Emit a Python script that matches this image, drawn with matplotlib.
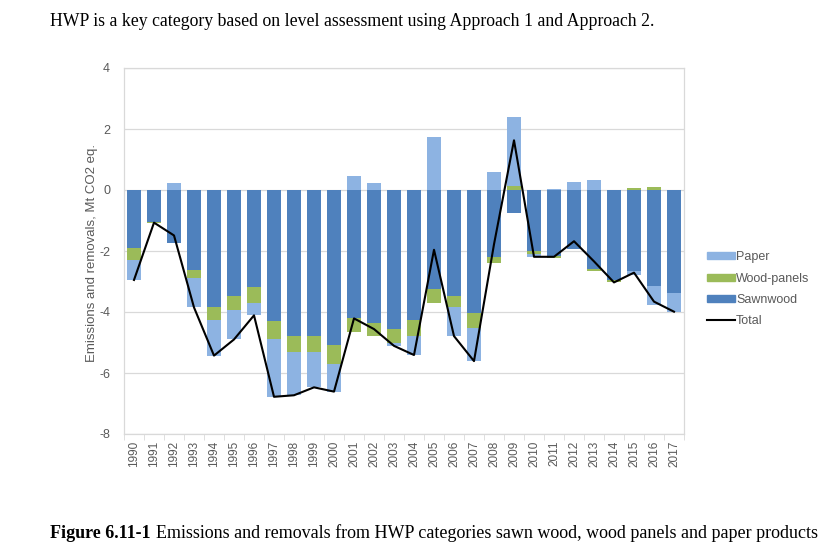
import numpy as np
import matplotlib
matplotlib.use("Agg")
import matplotlib.pyplot as plt
from matplotlib.patches import Patch
from matplotlib.lines import Line2D

# Data (Mt CO2 eq.)
years = list(range(1990, 2018))
sawnwood = [-1.91, -1.04, -1.73, -2.62, -3.82, -3.48, -3.19, -4.28, -4.79, -4.79,
            -5.08, -4.21, -4.37, -4.56, -4.26, -3.26, -3.48, -4.04, -2.21, -0.77,
            -1.99, -2.15, -1.93, -2.60, -2.95, -2.64, -3.15, -3.39]
panels = [-0.39, -0.03, 0.0, -0.25, -0.44, -0.45, -0.53, -0.62, -0.51, -0.51,
          -0.62, -0.46, -0.42, -0.44, -0.53, -0.43, -0.34, -0.50, -0.17, 0.14,
          -0.10, -0.07, 0.0, -0.07, -0.08, 0.08, 0.11, 0.0]
paper = [-0.65, 0.0, 0.24, -0.98, -1.17, -0.97, -0.39, -1.88, -1.43, -1.17,
         -0.91, 0.46, 0.23, -0.11, -0.62, 1.73, -0.97, -1.07, 0.60, 2.26,
         -0.10, 0.03, 0.25, 0.33, 0.0, -0.15, -0.62, -0.60]

col_saw = "#4f81bd"
col_pan = "#9bbb59"
col_pap = "#8db3e2"
grey_txt = "#595959"
grid_col = "#d9d9d9"

plt.rcParams["axes.unicode_minus"] = False

sawnwood = np.array(sawnwood)
panels = np.array(panels)
paper = np.array(paper)
total = sawnwood + panels + paper
x = np.arange(len(years))

fig = plt.figure(figsize=(8.24, 5.49), dpi=100)
ax = fig.add_axes([124 / 824, 1 - 434 / 549, 560 / 824, 366 / 549])

# stack positives and negatives separately, like Excel does
pos = np.zeros(len(x))
neg = np.zeros(len(x))
for vals, col in [(sawnwood, col_saw), (panels, col_pan), (paper, col_pap)]:
    base = np.where(vals >= 0, pos, neg)
    ax.bar(x, vals, bottom=base, width=0.67, color=col, zorder=2)
    pos = pos + np.where(vals >= 0, vals, 0)
    neg = neg + np.where(vals < 0, vals, 0)

ax.plot(x, total, color="black", lw=1.5, zorder=3)

ax.set_xlim(-0.5, len(x) - 0.5)
ax.set_ylim(-8, 4)
ax.set_yticks(np.arange(-8, 5, 2))
ax.yaxis.grid(True, color=grid_col, lw=0.9, zorder=0)
ax.set_axisbelow(True)

ax.set_xticks(x)
ax.set_xticklabels([str(y) for y in years], rotation=90, fontsize=8.5,
                   color=grey_txt, family="Liberation Sans")
ax.set_xticks(np.arange(-0.5, len(x), 1), minor=True)
ax.tick_params(axis="x", which="major", length=0, pad=5)
ax.tick_params(axis="x", which="minor", length=4, color=grid_col)
ax.tick_params(axis="y", length=0, pad=10, labelsize=9, labelcolor=grey_txt)
for lab in ax.get_yticklabels():
    lab.set_family("Liberation Sans")
for s in ax.spines.values():
    s.set_color(grid_col)
    s.set_linewidth(0.9)

fig.text(92 / 824, 1 - 253 / 549, "Emissions and removals, Mt CO2 eq.",
         rotation=90, ha="center", va="center", fontsize=9.5,
         color=grey_txt, family="Liberation Sans")

handles = [Patch(color=col_pap, label="Paper"),
           Patch(color=col_pan, label="Wood-panels"),
           Patch(color=col_saw, label="Sawnwood"),
           Line2D([], [], color="black", lw=1.5, label="Total")]
leg = fig.legend(handles=handles, loc="upper left",
                 bbox_to_anchor=(696 / 824, 1 - 240 / 549), frameon=False,
                 handlelength=2.2, handleheight=0.45, handletextpad=0.1,
                 labelspacing=0.75, prop={"family": "Liberation Sans", "size": 9})
for t in leg.get_texts():
    t.set_color(grey_txt)

fig.text(50 / 824, 1 - 22 / 549,
         "HWP is a key category based on level assessment using Approach 1 and Approach 2.",
         ha="left", va="center", fontsize=12.75, family="Liberation Serif")

bold = fig.text(50 / 824, 1 - 533 / 549, "Figure 6.11-1", ha="left", va="center",
                fontsize=13.0, family="Liberation Serif", weight="bold")
fig.canvas.draw()
bb = bold.get_window_extent()
fig.text(bb.x1 / fig.bbox.width + 5 / 824, 1 - 533 / 549,
         "Emissions and removals from HWP categories sawn wood, wood panels and paper products",
         ha="left", va="center", fontsize=13.0, family="Liberation Serif")

fig.savefig("out.png", dpi=100)
